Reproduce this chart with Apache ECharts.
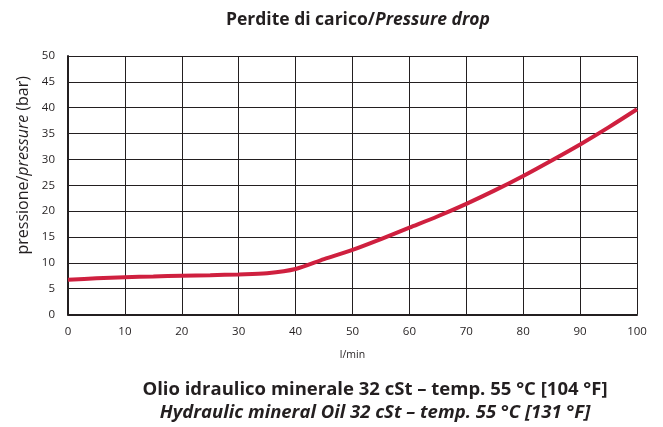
<!DOCTYPE html>
<html>
<head>
<meta charset="utf-8">
<script src="https://cdn.jsdelivr.net/npm/echarts@6/dist/echarts.min.js"></script>
<style>
  html, body { margin: 0; padding: 0; background: #fff; }
  #chart { width: 663px; height: 427px; }
</style>
</head>
<body>
<div id="chart"></div>
<script>
// portata (l/min) e perdita di carico (bar)
const flowLmin = [0, 5, 10, 15, 20, 25, 30, 35, 40, 45, 50, 55, 60, 65, 70, 75, 80, 85, 90, 95, 100]
const pressureBar = [6.7, 7.0, 7.2, 7.35, 7.5, 7.6, 7.75, 8.0, 8.8, 10.7, 12.5, 14.6, 16.8, 19.0, 21.4, 24.0, 26.8, 29.8, 32.9, 36.2, 39.7]

const FONT = '"Open Sans", "Noto Sans", sans-serif'

let myChart = echarts.init(document.getElementById('chart'))
let option = {
    backgroundColor: '#fff',
    animation: false,
    textStyle: { fontFamily: FONT },
    title: [
        {
            text: '{a|Perdite di carico/}{b|Pressure drop}',
            left: 353, top: 6, textAlign: 'center',
            textStyle: {
                rich: {
                    a: { fontFamily: FONT, fontSize: 17.5, fontWeight: 'bold', color: '#231f20' },
                    b: { fontFamily: FONT, fontSize: 17.5, fontWeight: 'bold', fontStyle: 'italic', color: '#231f20' }
                }
            }
        },
        {
            text: 'Olio idraulico minerale 32 cSt – temp. 55 °C [104 °F]',
            left: 370, top: 375, textAlign: 'center',
            textStyle: { fontFamily: FONT, fontSize: 18.5, fontWeight: 'bold', color: '#231f20' }
        },
        {
            text: 'Hydraulic mineral Oil 32 cSt – temp. 55 °C [131 °F]',
            left: 370, top: 398, textAlign: 'center',
            textStyle: { fontFamily: FONT, fontSize: 18.5, fontWeight: 'bold', fontStyle: 'italic', color: '#231f20' }
        }
    ],
    grid: { left: 68, right: 26, top: 56, bottom: 112.5 },
    xAxis: {
        type: 'value', min: 0, max: 100, interval: 10,
        name: 'l/min', nameLocation: 'middle', nameGap: 35,
        nameTextStyle: { fontFamily: FONT, fontSize: 10.5, color: '#231f20' },
        axisLine: { lineStyle: { color: '#231f20', width: 2 } },
        axisTick: { show: false },
        axisLabel: { fontFamily: FONT, fontSize: 11.5, color: '#231f20', margin: 11 },
        splitLine: { lineStyle: { color: '#231f20', width: 1 } }
    },
    yAxis: {
        type: 'value', min: 0, max: 50, interval: 5,
        name: '{a|pressione/}{b|pressure}{a| (bar)}', nameLocation: 'middle', nameGap: 36, nameRotate: 90,
        nameTextStyle: {
            padding: [0, 0, 0, 40],
            rich: {
                a: { fontFamily: FONT, fontSize: 16, color: '#231f20' },
                b: { fontFamily: FONT, fontSize: 16, fontStyle: 'italic', color: '#231f20' }
            }
        },
        axisLine: { show: true, lineStyle: { color: '#231f20', width: 2 } },
        axisTick: { show: false },
        axisLabel: { fontFamily: FONT, fontSize: 11.5, color: '#231f20', margin: 13 },
        splitLine: { lineStyle: { color: '#231f20', width: 1 } }
    },
    series: [
        {
            type: 'line',
            data: flowLmin.map((x, i) => [x, pressureBar[i]]),
            smooth: 0.3,
            showSymbol: false,
            lineStyle: { color: '#cf203f', width: 4 }
        }
    ]
}
myChart.setOption(option)
</script>
</body>
</html>
